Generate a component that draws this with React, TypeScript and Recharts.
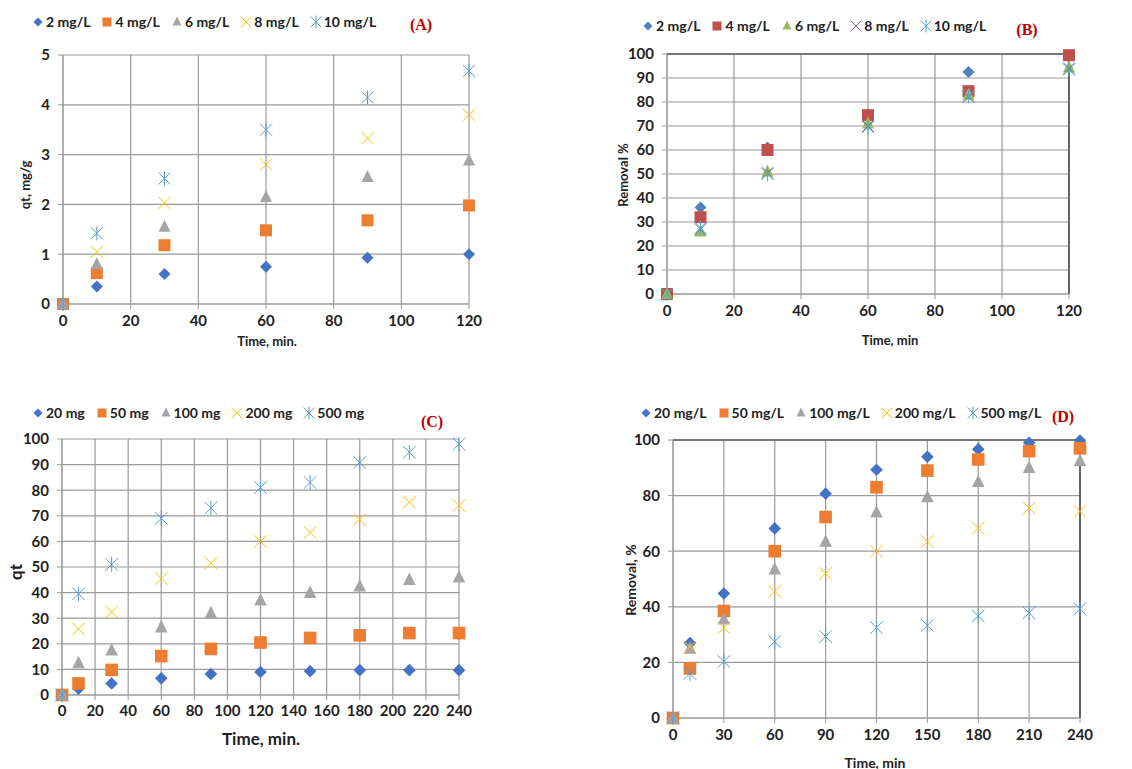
import React from 'react';
import {
  ScatterChart,
  Scatter,
  XAxis,
  YAxis,
  CartesianGrid,
  ReferenceLine,
} from 'recharts';

// time points (min)
const timeShort = [0, 10, 30, 60, 90, 120];
const timeLong = [0, 10, 30, 60, 90, 120, 150, 180, 210, 240];

// (A) qt, mg/g vs concentration
const qtA2 = [0, 0.35, 0.6, 0.75, 0.93, 1.0];
const qtA4 = [0, 0.62, 1.18, 1.48, 1.68, 1.98];
const qtA6 = [0, 0.8, 1.55, 2.15, 2.55, 2.88];
const qtA8 = [0, 1.05, 2.03, 2.8, 3.33, 3.8];
const qtA10 = [0, 1.42, 2.52, 3.5, 4.15, 4.68];

// (B) removal % vs concentration
const remB2 = [0, 36, 61, 74, 92.5, 99.5];
const remB4 = [0, 32, 60, 74.5, 84.5, 99.5];
const remB6 = [0, 26, 51, 71, 83, 94.5];
const remB8 = [0, 27, 50.5, 70, 82, 94];
const remB10 = [0, 27.5, 50, 69.5, 82.5, 93.5];

// (C) qt vs dose
const qtC20 = [0, 2.5, 4.5, 6.5, 8.2, 9, 9.3, 9.7, 9.7, 9.7];
const qtC50 = [0, 4.5, 9.8, 15.2, 18, 20.5, 22.3, 23.3, 24.2, 24.2];
const qtC100 = [0, 12.5, 17.5, 26.5, 32, 37, 40, 42.5, 45, 46];
const qtC200 = [0, 25.8, 32.5, 45.5, 51.5, 60, 63.5, 68.5, 75.3, 74];
const qtC500 = [0, 39.5, 51, 69, 73, 81, 83, 90.8, 94.8, 98];

// (D) removal % vs dose
const remD20 = [0, 27, 44.8, 68.2, 80.7, 89.3, 94, 96.7, 99, 99.8];
const remD50 = [0, 17.8, 38.5, 60, 72.3, 83, 89, 93, 96, 97];
const remD100 = [0, 25, 35.5, 53.5, 63.5, 74, 79.5, 85, 90, 92.5];
const remD200 = [0, 25.5, 32.5, 45.5, 52, 60, 63.5, 68.3, 75.5, 74.3];
const remD500 = [0, 16, 20.3, 27.5, 29.3, 32.5, 33.3, 36.7, 37.8, 39.3];

const labelsA = ['2 mg/L', '4 mg/L', '6 mg/L', '8 mg/L', '10 mg/L'];
const labelsC = ['20 mg', '50 mg', '100 mg', '200 mg', '500 mg'];
const labelsD = ['20 mg/L', '50 mg/L', '100 mg/L', '200 mg/L', '500 mg/L'];

const ticksA = [0, 20, 40, 60, 80, 100, 120];
const ticksAy = [0, 1, 2, 3, 4, 5];
const ticksBy = [0, 10, 20, 30, 40, 50, 60, 70, 80, 90, 100];
const ticksC = [0, 20, 40, 60, 80, 100, 120, 140, 160, 180, 200, 220, 240];
const ticksD = [0, 30, 60, 90, 120, 150, 180, 210, 240];
const ticksDy = [0, 20, 40, 60, 80, 100];

const office = ['#4472C4', '#ED7D31', '#A5A5A5', '#FFC000', '#5B9BD5'];
const office07 = ['#4F81BD', '#C0504D', '#9BBB59', '#8064A2', '#4BACC6'];
const markers = ['diamond', 'square', 'triangle', 'x', 'star'];

const FONT = 'Lato, "Open Sans", sans-serif';
const GRID = '#9a9a9a';

function Marker({ kind, cx, cy, color, s = 1 }: any) {
  const r = 6 * s;
  if (kind === 'diamond')
    return <polygon points={`${cx},${cy - r} ${cx + r},${cy} ${cx},${cy + r} ${cx - r},${cy}`} fill={color} />;
  if (kind === 'square')
    return <rect x={cx - r} y={cy - r} width={2 * r} height={2 * r} fill={color} />;
  if (kind === 'triangle')
    return <polygon points={`${cx},${cy - r - 1} ${cx + r},${cy + r - 1} ${cx - r},${cy + r - 1}`} fill={color} />;
  if (kind === 'x')
    return (
      <g stroke={color} strokeWidth={1}>
        <line x1={cx - r} y1={cy - r} x2={cx + r} y2={cy + r} />
        <line x1={cx - r} y1={cy + r} x2={cx + r} y2={cy - r} />
      </g>
    );
  return (
    <g stroke={color} strokeWidth={1}>
      <line x1={cx - r} y1={cy - r} x2={cx + r} y2={cy + r} />
      <line x1={cx - r} y1={cy + r} x2={cx + r} y2={cy - r} />
      <line x1={cx} y1={cy - r - 1} x2={cx} y2={cy + r + 1} />
    </g>
  );
}

function Legend({ left, top, labels, colors, size }: any) {
  return (
    <div
      style={{
        position: 'absolute', left, top, display: 'flex', alignItems: 'center',
        fontFamily: FONT, fontWeight: 700, fontSize: size, color: '#222', whiteSpace: 'nowrap',
      }}
    >
      {labels.map((l: string, i: number) => (
        <div key={l} style={{ display: 'flex', alignItems: 'center', marginRight: 11 }}>
          <svg width={12} height={14}>
            <Marker kind={markers[i]} cx={6} cy={7} color={colors[i]} s={i < 3 ? 0.75 : 0.9} />
          </svg>
          <span style={{ marginLeft: 2 }}>{l}</span>
        </div>
      ))}
    </div>
  );
}

function Text({ x, y, children, size, rotate, serif, color }: any) {
  return (
    <div
      style={{
        position: 'absolute', left: x, top: y, transform: `translate(-50%, -50%)${rotate ? ' rotate(-90deg)' : ''}`,
        fontFamily: serif ? '"Liberation Serif", serif' : FONT, fontWeight: 700, fontSize: size,
        color: color || '#222', whiteSpace: 'nowrap',
      }}
    >
      {children}
    </div>
  );
}

function Panel({ left, top, margin, yWidth, xTicks, yTicks, times, series, colors, fontSize, tickMargin, ms, frame }: any) {
  const w = 566;
  const h = 385;
  const xMax = xTicks[xTicks.length - 1];
  const yMax = yTicks[yTicks.length - 1];
  return (
    <div style={{ position: 'absolute', left, top }}>
      <ScatterChart width={w} height={h} margin={margin}>
        <CartesianGrid stroke={GRID} strokeWidth={1.2} />
        <XAxis
          type="number" dataKey="x" domain={[xTicks[0], xMax]} ticks={xTicks}
          interval={0} height={30} tickSize={5} tickMargin={tickMargin}
          stroke={GRID} tick={{ fill: '#222', fontSize, fontWeight: 700, fontFamily: FONT }}
        />
        <YAxis
          type="number" dataKey="y" domain={[yTicks[0], yMax]} ticks={yTicks}
          interval={0} width={yWidth} tickSize={5} tickMargin={8}
          stroke={GRID} tick={{ fill: '#222', fontSize, fontWeight: 700, fontFamily: FONT }}
        />
        {frame && <ReferenceLine y={yMax} stroke="#5a5a5a" strokeWidth={1.3} />}
        {frame && <ReferenceLine x={xMax} stroke="#333" strokeWidth={1.3} />}
        {series.map((vals: number[], i: number) => (
          <Scatter
            key={i}
            data={times.map((t: number, j: number) => ({ x: t, y: vals[j] }))}
            isAnimationActive={false}
            shape={(p: any) => <Marker kind={markers[i]} cx={p.cx} cy={p.cy} color={colors[i]} s={ms} />}
          />
        ))}
      </ScatterChart>
    </div>
  );
}

export default function App() {
  return (
    <div style={{ position: 'absolute', left: 0, top: 0, width: 1132, height: 769, background: '#fff', overflow: 'hidden' }}>
      {/* (A) */}
      <Panel
        left={0} top={0} margin={{ top: 55, right: 97, bottom: 51, left: 29 }} yWidth={34}
        xTicks={ticksA} yTicks={ticksAy} times={timeShort}
        series={[qtA2, qtA4, qtA6, qtA8, qtA10]} colors={office} fontSize={15} tickMargin={6} ms={1}
      />
      <Legend left={32} top={13} labels={labelsA} colors={office} size={14} />
      <Text x={421} y={25} size={16} serif color="#C00000">(A)</Text>
      <Text x={25} y={185} size={13} rotate>qt, mg/g</Text>
      <Text x={267} y={341} size={13}>Time, min.</Text>

      {/* (B) */}
      <Panel
        left={566} top={0} margin={{ top: 54, right: 63, bottom: 61, left: 61 }} yWidth={40}
        xTicks={ticksA} yTicks={ticksBy} times={timeShort}
        series={[remB2, remB4, remB6, remB8, remB10]} colors={office07} fontSize={15} tickMargin={6} ms={1} frame
      />
      <Legend left={642} top={17} labels={labelsA} colors={office07} size={14} />
      <Text x={1027} y={30} size={16} serif color="#C00000">(B)</Text>
      <Text x={623} y={175} size={13} rotate>Removal %</Text>
      <Text x={890} y={340} size={13}>Time, min</Text>

      {/* (C) */}
      <Panel
        left={0} top={385} margin={{ top: 54, right: 107, bottom: 45, left: 22 }} yWidth={40}
        xTicks={ticksC} yTicks={ticksBy} times={timeLong}
        series={[qtC20, qtC50, qtC100, qtC200, qtC500]} colors={office} fontSize={15} tickMargin={5} ms={1.05}
      />
      <Legend left={32} top={404} labels={labelsC} colors={office} size={14} />
      <Text x={432} y={422} size={16} serif color="#C00000">(C)</Text>
      <Text x={15} y={572} size={17} rotate>qt</Text>
      <Text x={261} y={738} size={17}>Time, min.</Text>

      {/* (D) */}
      <Panel
        left={566} top={385} margin={{ top: 55, right: 52, bottom: 22, left: 67 }} yWidth={40}
        xTicks={ticksD} yTicks={ticksDy} times={timeLong}
        series={[remD20, remD50, remD100, remD200, remD500]} colors={office} fontSize={15} tickMargin={6} ms={1.05} frame
      />
      <Legend left={640} top={404} labels={labelsD} colors={office} size={14} />
      <Text x={1063} y={417} size={16} serif color="#C00000">(D)</Text>
      <Text x={630} y={580} size={14} rotate>Removal, %</Text>
      <Text x={875} y={762} size={14}>Time, min</Text>
    </div>
  );
}
